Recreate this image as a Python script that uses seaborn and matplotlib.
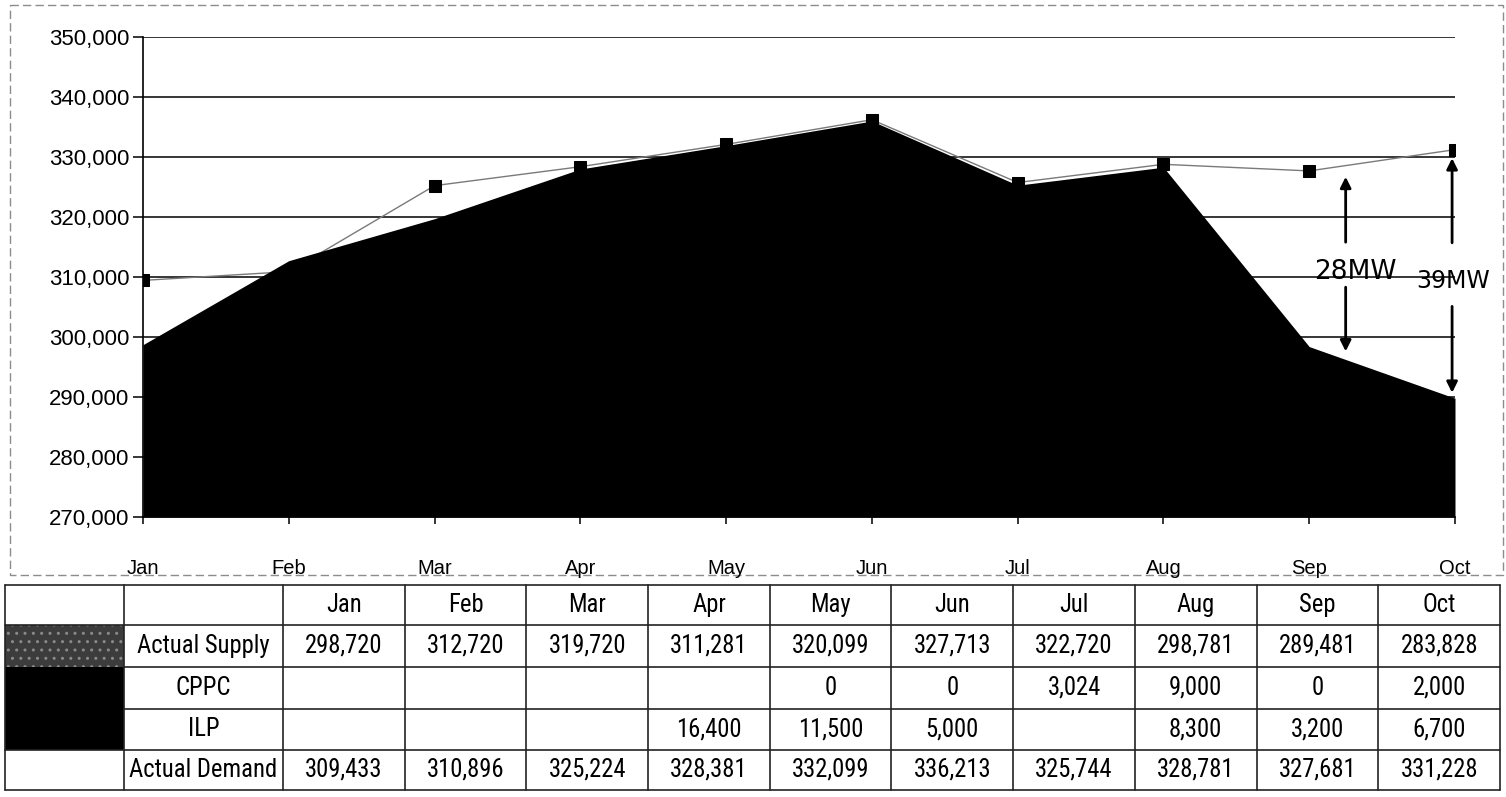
import matplotlib
matplotlib.use("Agg")
import matplotlib.pyplot as plt
import matplotlib.font_manager as fm
from matplotlib.font_manager import FontProperties
from matplotlib.patches import Rectangle
from matplotlib.ticker import FuncFormatter
import seaborn as sns
import pandas as pd

# ---------------- data ----------------
months = ["Jan", "Feb", "Mar", "Apr", "May", "Jun", "Jul", "Aug", "Sep", "Oct"]
actual_supply = [298720, 312720, 319720, 311281, 320099, 327713, 322720, 298781, 289481, 283828]
cppc = [None, None, None, None, 0, 0, 3024, 9000, 0, 2000]
ilp = [None, None, None, 16400, 11500, 5000, None, 8300, 3200, 6700]
actual_demand = [309433, 310896, 325224, 328381, 332099, 336213, 325744, 328781, 327681, 331228]
# top edge of the black (stacked supply) area as drawn in the chart
area_top = [298720, 312720, 319720, 328000, 331900, 336000, 325300, 328300, 298400, 289800]
y_ticks = [270000, 280000, 290000, 300000, 310000, 320000, 330000, 340000, 350000]
row_labels = ["Actual Supply", "CPPC", "ILP", "Actual Demand"]
gap_labels = ["28MW", "39MW"]

# ---------------- style ----------------
sns.set_theme(style="white")
plt.rcParams["font.family"] = ["Liberation Sans", "DejaVu Sans"]

# pick a condensed face for the table if one is installed
table_fp_path = None
pref = ["Liberation Sans Narrow", "Arial Narrow", "Roboto Condensed",
        "DejaVu Sans Condensed", "Noto Sans Condensed", "Open Sans Condensed"]
entries = fm.fontManager.ttflist
for p in pref:
    for f in entries:
        if f.name == p and f.style == "normal" and f.weight in (400, "normal", "regular"):
            table_fp_path = f.fname
            break
    if table_fp_path:
        break
if table_fp_path is None:
    for f in entries:
        if ("condensed" in str(f.stretch) and f.style == "normal"
                and f.weight in (400, "normal", "regular")
                and "extra" not in str(f.stretch) and "ultra" not in str(f.stretch)):
            table_fp_path = f.fname
            break

W, H = 1506, 797
fig = plt.figure(figsize=(W / 100, H / 100), dpi=100)
fig.patch.set_facecolor("white")
renderer = fig.canvas.get_renderer()


def table_fp(size):
    if table_fp_path:
        return FontProperties(fname=table_fp_path, size=size)
    return FontProperties(family="DejaVu Sans", size=size)


# size the table font so that "Actual Supply" is about 132 px wide
probe = fig.text(0, 0, "Actual Supply", fontproperties=table_fp(20))
wpx = probe.get_window_extent(renderer=renderer).width
probe.remove()
table_size = min(19.0, 20 * 132.0 / wpx)

# overlay for frame and table (pixel coordinates)
tax = fig.add_axes([0, 0, 1, 1])
tax.set_xlim(0, W)
tax.set_ylim(H, 0)
tax.axis("off")

# ---------------- chart ----------------
ax = fig.add_axes([143 / W, 1 - 517 / H, (1455 - 143) / W, (517 - 37) / H])
ax.set_facecolor("none")
x = list(range(len(months)))
df = pd.DataFrame({"x": x, "month": months, "demand": actual_demand, "area": area_top})

for v in y_ticks:
    ax.axhline(v, color="black", lw=1.1, zorder=1)

sns.lineplot(data=df, x="x", y="demand", ax=ax, color="#7a7a7a", lw=1.0,
             marker="s", markersize=9, markerfacecolor="black",
             markeredgecolor="black", zorder=2)
ax.fill_between(df["x"], y_ticks[0], df["area"], color="black", lw=0, zorder=3)

ax.set_xlim(0, len(months) - 1)
ax.set_ylim(y_ticks[0], y_ticks[-1])
ax.set_yticks(y_ticks)
ax.yaxis.set_major_formatter(FuncFormatter(lambda v, p: f"{int(v):,}"))
ax.set_xticks(x)
ax.set_xticklabels(months)
ax.set_xlabel("")
ax.set_ylabel("")
for s in ["top", "right"]:
    ax.spines[s].set_visible(False)
for s in ["left", "bottom"]:
    ax.spines[s].set_visible(True)
    ax.spines[s].set_color("black")
    ax.spines[s].set_linewidth(1.2)
ax.spines["left"].set_zorder(5)
ax.tick_params(axis="y", which="major", left=True, length=7, width=1.1,
               color="black", pad=3, labelsize=16, labelcolor="black")
ax.tick_params(axis="x", which="major", bottom=True, length=5, width=1.1,
               color="black", pad=25, labelsize=14.5, labelcolor="black")
ax.grid(False)

# gap annotations
arrow_kw = dict(arrowstyle="-|>", color="black", lw=2.0, mutation_scale=16,
                shrinkA=0, shrinkB=0)
ax.annotate("", xy=(8.25, 326700), xytext=(8.25, 315800), arrowprops=arrow_kw, zorder=6)
ax.annotate("", xy=(8.25, 297600), xytext=(8.25, 308300), arrowprops=arrow_kw, zorder=6)
ax.text(8.32, 310900, gap_labels[0], ha="center", va="center", fontsize=19,
        family="DejaVu Sans", color="black", zorder=6)
ax.annotate("", xy=(8.98, 329800), xytext=(8.98, 315700), arrowprops=arrow_kw, zorder=6,
            annotation_clip=False)
ax.annotate("", xy=(8.98, 290700), xytext=(8.98, 305100), arrowprops=arrow_kw, zorder=6,
            annotation_clip=False)
ax.text(8.99, 309300, gap_labels[1], ha="center", va="center", fontsize=17,
        family="DejaVu Sans", color="black", zorder=7)

# dashed outer frame of chart
tax.add_patch(Rectangle((10, 5), 1493, 570, fill=False, ec="#8c8c8c", lw=1.0,
                        ls=(0, (6, 3))))

# ---------------- table ----------------
col_x = [5, 124, 283]
for i in range(len(months)):
    col_x.append(283 + (i + 1) * 121.7)
row_y = [585, 625, 667, 709, 750, 790]

# legend keys
tax.add_patch(Rectangle((col_x[0], row_y[1]), col_x[1] - col_x[0], row_y[2] - row_y[1],
                        fc="#3c3c3c", ec="#8a8a8a", hatch="..", lw=0))
tax.add_patch(Rectangle((col_x[0], row_y[2]), col_x[1] - col_x[0], row_y[4] - row_y[2],
                        fc="black", lw=0))

lc = "#222222"
for yy in [row_y[0], row_y[1], row_y[4], row_y[5]]:
    tax.plot([col_x[0], col_x[-1]], [yy, yy], color=lc, lw=1.2)
for yy in [row_y[2], row_y[3]]:
    tax.plot([col_x[1], col_x[-1]], [yy, yy], color=lc, lw=1.2)
for xx in col_x:
    tax.plot([xx, xx], [row_y[0], row_y[5]], color=lc, lw=1.2)


def fmt(v):
    return "" if v is None else f"{v:,}"


rows = [actual_supply, cppc, ilp, actual_demand]
for j, m in enumerate(months):
    cx = (col_x[j + 2] + col_x[j + 3]) / 2
    tax.text(cx, (row_y[0] + row_y[1]) / 2, m, ha="center", va="center",
             fontproperties=table_fp(table_size), color="black")
    for r, vals in enumerate(rows):
        tax.text(cx, (row_y[r + 1] + row_y[r + 2]) / 2, fmt(vals[j]), ha="center",
                 va="center", fontproperties=table_fp(table_size), color="black")
for r, lab in enumerate(row_labels):
    tax.text((col_x[1] + col_x[2]) / 2, (row_y[r + 1] + row_y[r + 2]) / 2, lab,
             ha="center", va="center", fontproperties=table_fp(table_size),
             color="black")

fig.savefig("out.png", dpi=100, facecolor="white")
